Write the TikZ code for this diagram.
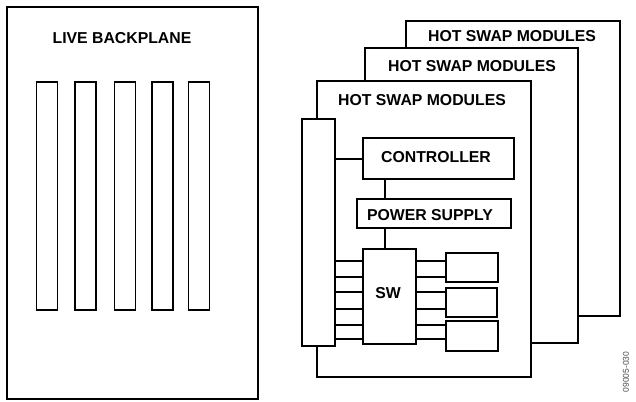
\documentclass[tikz,border=0pt]{standalone}
\usepackage{fontspec}
\setmainfont{Liberation Sans}
\begin{document}
\begin{tikzpicture}[x=1pt,y=-1pt,
  box/.style={draw=black, line width=1.7pt, fill=white, inner sep=0pt, outer sep=0pt},
  lbl/.style={font=\fontsize{15.8}{18}\selectfont\bfseries, inner sep=0pt},
  wire/.style={draw=black, line width=1.7pt}]
\useasboundingbox (0,0) rectangle (636,401);
% live backplane
\node[box, minimum width=251pt, minimum height=392pt] (bp) at (132.5,203) {};
\node[lbl] (bpt) at (122,38) {LIVE BACKPLANE};
\foreach \x/\n in {47/s1,85.5/s2,125/s3,162.5/s4,199/s5}
  \node[box, minimum width=21pt, minimum height=228pt] (\n) at (\x,196) {};
% hot swap module stacks
\node[box, minimum width=214pt, minimum height=295pt] (m3) at (513,168.5) {};
\node[lbl] (m3t) at (512,36) {HOT SWAP MODULES};
\node[box, minimum width=213pt, minimum height=295pt] (m2) at (471.5,195.5) {};
\node[lbl] (m2t) at (472,66) {HOT SWAP MODULES};
\node[box, minimum width=214pt, minimum height=296pt] (m1) at (424,229) {};
\node[lbl] (m1t) at (422,100) {HOT SWAP MODULES};
% connector bar
\node[box, minimum width=33pt, minimum height=227pt] (bar) at (318.5,232.5) {};
% blocks
\node[box, minimum width=151pt, minimum height=41pt] (ctrl) at (438.5,158.5) {};
\node[lbl] (ctrlt) at (436,157) {CONTROLLER};
\node[box, minimum width=154pt, minimum height=29pt] (ps) at (434,213.5) {};
\node[lbl] (pst) at (430,215) {POWER SUPPLY};
\node[box, minimum width=53pt, minimum height=95pt] (sw) at (389.5,296.5) {};
\node[lbl] (swt) at (388,293) {SW};
\node[box, minimum width=52pt, minimum height=29pt] (b1) at (472,267.5) {};
\node[box, minimum width=51pt, minimum height=29pt] (b2) at (471.5,302.5) {};
\node[box, minimum width=52pt, minimum height=30pt] (b3) at (472,336) {};
% connectors
\coordinate (vx) at (385,0);
\coordinate (cy) at (0,159);
\draw[wire] (bar.east |- cy) -- (ctrl.west |- cy);
\draw[wire] (ctrl.south -| vx) -- (ps.north -| vx);
\draw[wire] (ps.south -| vx) -- (sw.north -| vx);
\foreach \y/\n in {261/l1,277/l2,292/l3,309/l4,325/l5,339/l6}
  \coordinate (\n) at (0,\y);
\foreach \n in {l1,l2,l3,l4,l5,l6}
  \draw[wire] (bar.east |- \n) -- (sw.west |- \n);
\draw[wire] (sw.east |- l1) -- (b1.west |- l1);
\draw[wire] (sw.east |- l2) -- (b1.west |- l2);
\draw[wire] (sw.east |- l3) -- (b2.west |- l3);
\draw[wire] (sw.east |- l4) -- (b2.west |- l4);
\draw[wire] (sw.east |- l5) -- (b3.west |- l5);
\draw[wire] (sw.east |- l6) -- (b3.west |- l6);
% figure number
\node[rotate=90, font=\fontsize{8.5}{10}\selectfont, text=black!70, inner sep=0pt] (fig) at (626,372) {09005-030};
\end{tikzpicture}
\end{document}
